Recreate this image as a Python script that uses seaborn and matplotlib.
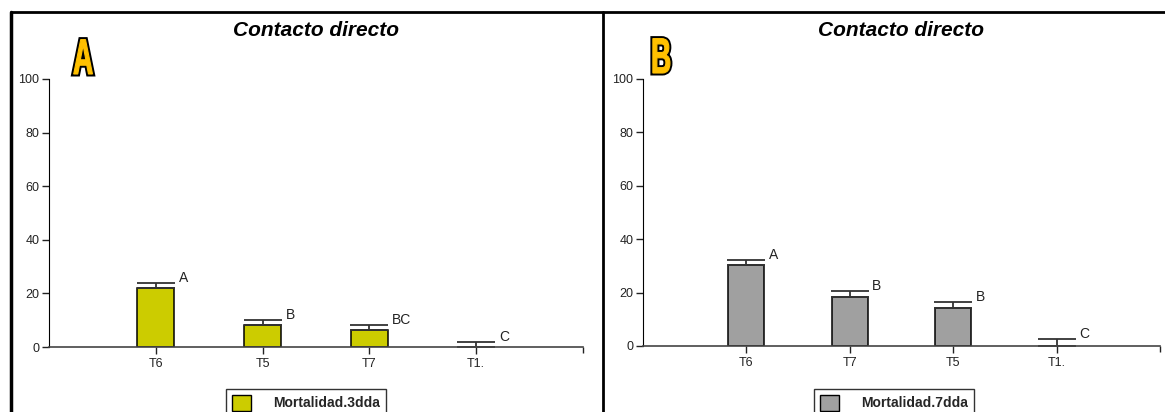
import matplotlib
matplotlib.use("Agg")
import matplotlib.pyplot as plt
from matplotlib.lines import Line2D
from matplotlib.patches import Patch, PathPatch
from matplotlib.textpath import TextPath
from matplotlib.font_manager import FontProperties
from matplotlib.transforms import Affine2D
import seaborn as sns

# data
cats_a = ["T6", "T5", "T7", "T1."]
vals_a = [22.0, 8.2, 6.2, 0.0]
errs_a = [2.0, 2.0, 2.0, 1.9]
grp_a = ["A", "B", "BC", "C"]

cats_b = ["T6", "T7", "T5", "T1."]
vals_b = [30.5, 18.3, 14.2, 0.0]
errs_b = [1.8, 2.3, 2.3, 2.5]
grp_b = ["A", "B", "B", "C"]

sns.set_style("ticks")
plt.rcParams['font.family'] = ['Liberation Sans', 'DejaVu Sans']

W, H = 1165, 412
fig = plt.figure(figsize=(W / 100, H / 100), dpi=100)

panels = [
    dict(cats=cats_a, vals=vals_a, errs=errs_a, grp=grp_a, color="#CCCC00",
         rect=[49 / W, 1 - 347 / H, 534 / W, 268 / H],
         label="Mortalidad.3dda", letter="A", letter_px=(73, 74),
         title_x=316 / W, leg_x=226 / W),
    dict(cats=cats_b, vals=vals_b, errs=errs_b, grp=grp_b, color="#A0A0A0",
         rect=[643 / W, 1 - 346 / H, 517 / W, 267 / H],
         label="Mortalidad.7dda", letter="B", letter_px=(651, 73),
         title_x=901 / W, leg_x=814 / W),
]

bold = FontProperties(family="Liberation Sans", weight="bold")

for p in panels:
    ax = fig.add_axes(p["rect"])
    sns.barplot(x=p["cats"], y=p["vals"], color=p["color"], width=0.35,
                edgecolor="black", linewidth=1.1, saturation=1, ax=ax)
    pos = list(range(len(p["cats"])))
    ax.errorbar(pos, p["vals"], yerr=[[0] * len(pos), p["errs"]], fmt="none",
                ecolor="#333333", elinewidth=1.3, capsize=13.5, capthick=1.3)
    for x, v, e, g in zip(pos, p["vals"], p["errs"], p["grp"]):
        ax.text(x + 0.215, v + e + 0.4, g, fontsize=10, color="#222222",
                ha="left", va="baseline")
    ax.set_xlim(-1, 4)
    ax.set_ylim(0, 100)
    ax.set_yticks(range(0, 101, 20))
    ax.set_xticks([4], minor=True)
    sns.despine(ax=ax)
    ax.spines["left"].set_color("black")
    ax.spines["bottom"].set_color("#444444")
    ax.spines["bottom"].set_linewidth(1.2)
    ax.tick_params(axis="y", length=5, width=1, labelsize=9, colors="#222222", pad=2)
    ax.tick_params(axis="x", which="major", length=5, width=1, labelsize=9,
                   colors="#222222", pad=3)
    ax.tick_params(axis="x", which="minor", length=4, width=1, colors="#222222")
    ax.set_xlabel("")
    ax.set_ylabel("")

    fig.text(p["title_x"], 1 - 31 / H, "Contacto directo", fontsize=15,
             fontweight="bold", fontstyle="italic", color="black",
             ha="center", va="center")

    # condensed heavy panel letter: black outline under a slightly thickened yellow fill
    tp = TextPath((0, 0), p["letter"], size=1, prop=bold)
    x0, y0 = p["letter_px"]
    tr = Affine2D().scale(28, 50).translate(x0, H - y0)
    fig.add_artist(PathPatch(tp, transform=tr, facecolor="black",
                             edgecolor="black", linewidth=3.6, joinstyle="miter"))
    fig.add_artist(PathPatch(tp, transform=tr, facecolor="#FFC000",
                             edgecolor="#FFC000", linewidth=0.8, joinstyle="miter"))

    ax.legend(handles=[Patch(facecolor=p["color"], edgecolor="black", linewidth=1,
                             label=p["label"])],
              loc="upper left", bbox_to_anchor=(p["leg_x"], 1 - 389 / H),
              bbox_transform=fig.transFigure, borderaxespad=0,
              fancybox=False, framealpha=1,
              edgecolor="#333333", handlelength=1.4, handleheight=1.4,
              handletextpad=1.6, borderpad=0.4,
              prop=dict(size=10, weight="bold"))

# outer frame lines
fig.add_artist(Line2D([11 / W, 1], [1 - 12 / H] * 2, color="black", lw=2))
fig.add_artist(Line2D([11 / W] * 2, [0, 1 - 12 / H], color="black", lw=2.5))
fig.add_artist(Line2D([603 / W] * 2, [0, 1 - 12 / H], color="black", lw=2))

fig.savefig("out.png", dpi=100)
